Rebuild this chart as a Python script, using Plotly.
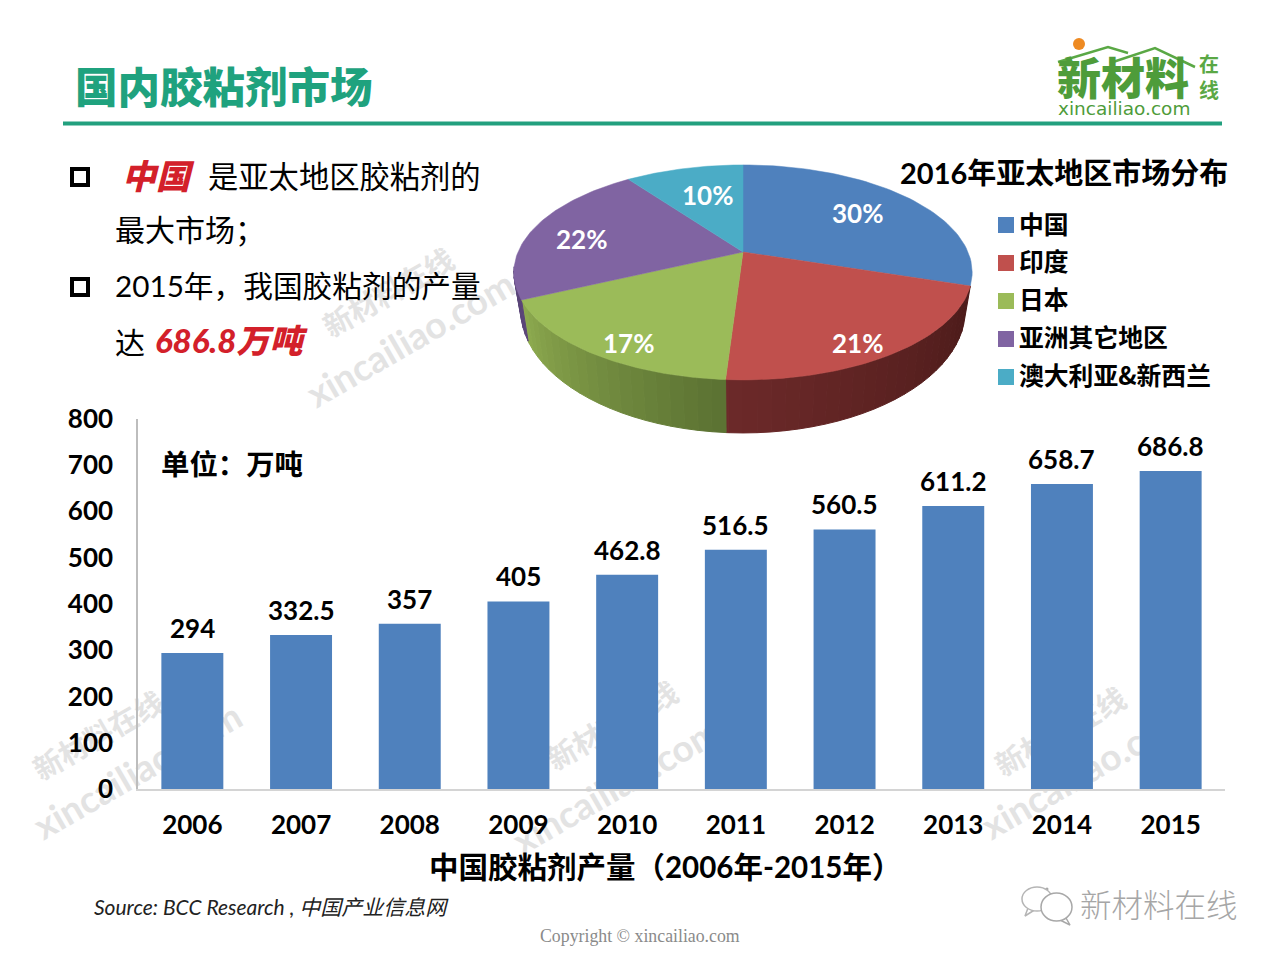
import numpy as np
import plotly.graph_objects as go

years = ["2006", "2007", "2008", "2009", "2010", "2011", "2012", "2013", "2014", "2015"]
output = [294, 332.5, 357, 405, 462.8, 516.5, 560.5, 611.2, 658.7, 686.8]
output_labels = ["294", "332.5", "357", "405", "462.8", "516.5", "560.5", "611.2", "658.7", "686.8"]
y_ticks = [0, 100, 200, 300, 400, 500, 600, 700, 800]

regions = ["中国", "印度", "日本", "亚洲其它地区", "澳大利亚&新西兰"]
shares = [30, 21, 17, 22, 10]
pie_colors = ["#4f81bd", "#c0504d", "#9bbb59", "#8064a2", "#4bacc6"]

FONT = "Lato, Noto Sans CJK SC, sans-serif"
CJK = "Noto Sans CJK SC, sans-serif"
GREEN = "#1fa27e"
RED = "#d3202a"
W, H = 1280, 960

# pie is a tilted disc, plotly's own pie can only be round so it is projected here
CX, CY, A, B, K = 743, 252, 225, 103.6, 0.19


def project(theta, r=1.0):
    t = np.radians(theta)
    x, y = r * np.sin(t), r * np.cos(t)
    w = 1 + K * y
    return CX + A * x / w, CY - B * y / w


def project_bottom(theta):
    t = np.radians(theta)
    x, y = np.sin(t), np.cos(t)
    w = 1 + K * y
    return CX + 0.97 * A * x / w, CY - B * y / w + 34.8 / w ** 2


def mix(c1, c2, f):
    a = [int(c1[i:i + 2], 16) for i in (1, 3, 5)]
    b = [int(c2[i:i + 2], 16) for i in (1, 3, 5)]
    return "rgb(%d,%d,%d)" % tuple(a[i] + (b[i] - a[i]) * f for i in range(3))


fig = go.Figure()

# bars on the normal axes
fig.add_trace(go.Bar(x=years, y=output, marker=dict(color="#4f81bd", line_width=0), width=0.57,
                     showlegend=False, hoverinfo="x+y"))

# side wall of the pie, strips so the shading can change along the rim
stops = np.cumsum([0] + shares) * 3.6
wall_colors = {1: ("#4c1b1a", "#6d2a2a"), 2: ("#5c7333", "#8fac50"), 3: ("#5a4578", "#5a4578")}
wall_end = {1: stops[2], 2: stops[3], 3: 262}
for i in (1, 2, 3):
    edges = np.arange(stops[i], wall_end[i] + 3, 3.0)
    edges = np.minimum(edges, wall_end[i])
    for j in range(len(edges) - 1):
        a0, a1 = edges[j], edges[j + 1]
        if a1 <= a0:
            continue
        top0, top1 = project(a0), project(a1)
        bot0, bot1 = project_bottom(a0), project_bottom(a1)
        col = mix(wall_colors[i][0], wall_colors[i][1], j / max(len(edges) - 2, 1))
        fig.add_trace(go.Scatter(x=[top0[0], top1[0], bot1[0], bot0[0], top0[0]],
                                 y=[top0[1], top1[1], bot1[1], bot0[1], top0[1]],
                                 xaxis="x2", yaxis="y2", mode="lines", fill="toself",
                                 fillcolor=col, line=dict(color=col, width=1),
                                 showlegend=False, hoverinfo="skip"))

# top of the pie
for i, name in enumerate(regions):
    angles = np.linspace(stops[i], stops[i + 1], 60)
    px_, py_ = project(angles)
    fig.add_trace(go.Scatter(x=np.r_[CX, px_, CX], y=np.r_[CY, py_, CY], xaxis="x2", yaxis="y2",
                             mode="lines", fill="toself", fillcolor=pie_colors[i],
                             line=dict(color=pie_colors[i], width=0.5),
                             name=name, showlegend=False, hoverinfo="name"))

# legend
fig.add_trace(go.Scatter(x=[1006] * 5, y=[225, 263, 301, 339, 377], xaxis="x2", yaxis="y2",
                         mode="markers", marker=dict(symbol="square", size=16, color=pie_colors),
                         showlegend=False, hoverinfo="skip"))
fig.add_trace(go.Scatter(x=[1019] * 5, y=[228, 265, 303, 341, 379], xaxis="x2", yaxis="y2",
                         mode="text", text=regions, textposition="middle right",
                         textfont=dict(family=CJK, size=24.8, color="black", weight=700),
                         showlegend=False, hoverinfo="skip"))

# logo roof
fig.add_trace(go.Scatter(x=[1058, 1108, 1128], y=[62, 47, 53], xaxis="x2", yaxis="y2", mode="lines",
                         line=dict(color="#5aa845", width=2.5), showlegend=False, hoverinfo="skip"))
fig.add_trace(go.Scatter(x=[1110, 1155, 1195], y=[63, 48, 67], xaxis="x2", yaxis="y2", mode="lines",
                         line=dict(color="#5aa845", width=2.5), showlegend=False, hoverinfo="skip"))

annotations = []


def txt(x, y, text, size, color="black", weight=400, anchor="left", family=FONT, style="normal", angle=0):
    annotations.append(dict(x=x, y=y, xref="x2", yref="y2", text=text, showarrow=False,
                            xanchor=anchor, yanchor="middle", textangle=angle,
                            font=dict(family=family, size=size, color=color, weight=weight, style=style)))


txt(73, 84, "国内胶粘剂市场", 42.5, GREEN, 900, family=CJK)
txt(120, 174, "中国", 34, RED, 900, style="italic", family=CJK)
txt(206, 175, "是亚太地区胶粘剂的", 30.3, family=CJK)
txt(113, 228, "最大市场；", 30, family=CJK)
txt(113, 285, "2015年，我国胶粘剂的产量", 29.7)
txt(113, 341, "达", 30, family=CJK)
txt(153, 340, "686.8万吨", 33, RED, 900, style="italic")
txt(898, 172, "2016年亚太地区市场分布", 29, weight=700)
txt(159, 462, "单位：万吨", 28.4, weight=700, family=CJK)
txt(665, 866, "中国胶粘剂产量（2006年-2015年）", 29.5, weight=700, anchor="center")
txt(92, 906, "Source: BCC Research , 中国产业信息网", 21, "#222222", style="italic")
txt(640, 936, "Copyright © xincailiao.com", 17.8, "#8a8a8a", anchor="center", family="Liberation Serif")
txt(1078, 903, "新材料在线", 31.5, "#a6a6a6", 300, family=CJK)

# logo
txt(1123, 76, "新材料", 44, "#4e9c3a", 900, anchor="center", family=CJK)
txt(1209, 76, "在<br>线", 20, "#5aa845", 700, anchor="center", family=CJK)
txt(1124, 108, "xincailiao.com", 18.5, "#4e9c3a", 400, anchor="center", family="DejaVu Sans")

# pie percentages
for share, (lx, ly) in zip(shares, [(857, 213), (857, 343), (628, 343), (581, 239), (707, 195)]):
    txt(lx, ly, "%d%%" % share, 26, "white", 700, anchor="center")

# value labels above the bars, x is the category index on a category axis
for i, (val, lab) in enumerate(zip(output, output_labels)):
    annotations.append(dict(x=i, y=val, xref="x", yref="y", text=lab, showarrow=False, yanchor="bottom",
                            yshift=7, font=dict(family=FONT, size=26, color="black", weight=700)))

shapes = [
    dict(type="line", xref="paper", yref="paper", x0=63 / W, x1=1222 / W, y0=1 - 123.5 / H, y1=1 - 123.5 / H,
         line=dict(color="#22a07e", width=4)),
    dict(type="rect", xref="paper", yref="paper", x0=72 / W, x1=88 / W, y0=1 - 169 / H, y1=1 - 185 / H,
         line=dict(color="black", width=4)),
    dict(type="rect", xref="paper", yref="paper", x0=72 / W, x1=88 / W, y0=1 - 279 / H, y1=1 - 295 / H,
         line=dict(color="black", width=4)),
    dict(type="circle", xref="paper", yref="paper", x0=1073 / W, x1=1085 / W, y0=1 - 38 / H, y1=1 - 50 / H,
         fillcolor="#ee8a22", line_width=0),
    # wechat icon
    dict(type="circle", xref="paper", yref="paper", x0=1022 / W, x1=1052 / W, y0=1 - 887 / H, y1=1 - 911 / H,
         line=dict(color="#b5b5b5", width=1.5), fillcolor="white"),
    dict(type="circle", xref="paper", yref="paper", x0=1041 / W, x1=1072 / W, y0=1 - 893 / H, y1=1 - 921 / H,
         line=dict(color="#a8a8a8", width=1.5), fillcolor="white"),
]

# tails and eyes of the wechat icon
fig.add_trace(go.Scatter(x=[1028, 1025, 1036], y=[908, 916, 909], xaxis="x2", yaxis="y2", mode="lines",
                         line=dict(color="#b5b5b5", width=1.5), showlegend=False, hoverinfo="skip"))
fig.add_trace(go.Scatter(x=[1066, 1070, 1060], y=[918, 925, 920], xaxis="x2", yaxis="y2", mode="lines",
                         line=dict(color="#a8a8a8", width=1.5), showlegend=False, hoverinfo="skip"))
fig.add_trace(go.Scatter(x=[1033, 1047, 1052, 1062], y=[889, 889, 902, 902], xaxis="x2", yaxis="y2", mode="markers",
                         marker=dict(color="#a8a8a8", size=3), showlegend=False, hoverinfo="skip"))

# watermarks sit under the bars, so they are shape labels and not annotations
for wx, wy, s, label in [(388, 292, 29, "新材料在线"), (410, 338, 37, "xincailiao.com"),
                         (98, 735, 29, "新材料在线"), (137, 770, 37, "xincailiao.com"),
                         (612, 725, 29, "新材料在线"), (616, 785, 37, "xincailiao.com"),
                         (1060, 731, 29, "新材料在线"), (1085, 770, 37, "xincailiao.com")]:
    shapes.append(dict(type="rect", xref="paper", yref="paper", layer="below",
                       x0=(wx - 5) / W, x1=(wx + 5) / W, y0=1 - (wy - 5) / H, y1=1 - (wy + 5) / H, line_width=0,
                       label=dict(text=label, textangle=-30, textposition="middle center",
                                  font=dict(family=FONT, size=s, color="#e3e3e3", weight=700))))

fig.update_layout(
    width=W, height=H, margin=dict(l=0, r=0, t=0, b=0),
    paper_bgcolor="white", plot_bgcolor="rgba(0,0,0,0)", showlegend=False,
    bargap=0.43, annotations=annotations, shapes=shapes,
    xaxis=dict(type="category", domain=[138 / W, 1225 / W], anchor="y", range=[-0.5, 9.5], automargin=False,
               showgrid=False, zeroline=False,
               showline=True, linecolor="#d4d4d4", linewidth=1.5, ticks="outside", ticklen=12,
               tickcolor="rgba(0,0,0,0)", tickfont=dict(family=FONT, size=26, color="black", weight=700)),
    yaxis=dict(domain=[1 - 789 / H, 1 - 418.6 / H], anchor="x", range=[0, 800], tickvals=y_ticks, automargin=False,
               showgrid=False,
               zeroline=False, showline=True, linecolor="#bdbdbd", linewidth=1.5, ticks="outside", ticklen=18,
               tickcolor="rgba(0,0,0,0)", tickfont=dict(family=FONT, size=26, color="black", weight=700)),
    xaxis2=dict(domain=[0, 1], range=[0, W], anchor="y2", visible=False, fixedrange=True, automargin=False),
    yaxis2=dict(domain=[0, 1], range=[H, 0], anchor="x2", visible=False, fixedrange=True, automargin=False),
)

fig.write_html("out.html", config=dict(displayModeBar=False),
               post_script="document.body.style.margin='0';")
